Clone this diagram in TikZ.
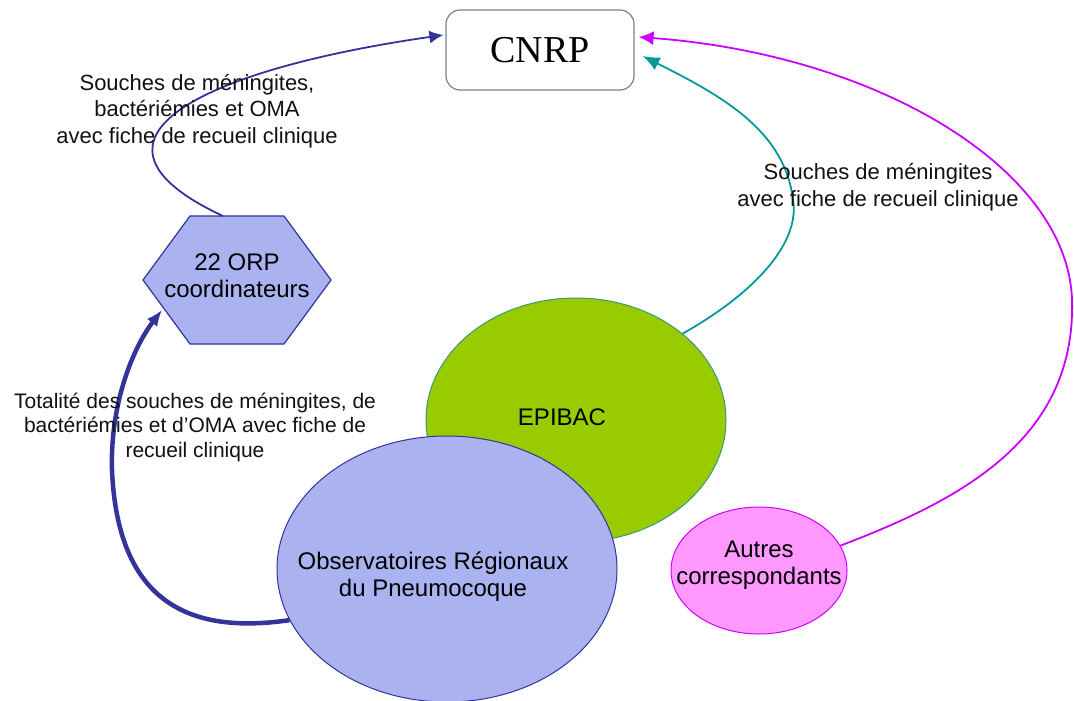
\documentclass[tikz,border=0pt]{standalone}
\usepackage{fontspec}
\setmainfont{Liberation Sans}
\newfontfamily\cnrpfont{Liberation Serif}
\usetikzlibrary{shapes.geometric,arrows.meta,calc}
\definecolor{periw}{RGB}{170,178,240}
\definecolor{navy}{RGB}{51,51,153}
\definecolor{leaf}{RGB}{153,204,0}
\definecolor{leafedge}{RGB}{60,150,120}
\definecolor{tealc}{RGB}{0,153,153}
\definecolor{magc}{RGB}{204,0,255}
\definecolor{pinkc}{RGB}{255,153,255}
\definecolor{boxgray}{RGB}{128,128,128}
\definecolor{txt}{RGB}{17,17,17}
\begin{document}
\begin{tikzpicture}[x=1pt,y=-1pt,
  blob/.style={ellipse, inner sep=0pt, line width=1pt},
  lbl/.style={align=center, text=txt, font=\fontsize{22}{26.5}\selectfont, inner sep=0pt},
  nodetxt/.style={align=center, text=black, font=\fontsize{24}{27}\selectfont, inner sep=0pt},
  flow/.style={line width=1.8pt},
]
\useasboundingbox (0,0) rectangle (1074,701);
\fill[white] (0,0) rectangle (1074,701);

\node[draw=boxgray, line width=1.2pt, rounded corners=14pt, minimum width=188pt, minimum height=80pt, fill=white, inner sep=0pt, font=\cnrpfont\fontsize{38}{40}\selectfont] (cnrp) at (540,50) {CNRP};

\node[blob, draw=leafedge, fill=leaf, minimum width=300pt, minimum height=244pt] (epibac) at (576,420) {};
\node[nodetxt] (epibactext) at (562,417) {EPIBAC};
\node[blob, draw=navy, fill=periw, minimum width=340pt, minimum height=266pt] (obs) at (447,569) {};
\node[nodetxt] (obstext) at (433,577) {Observatoires Régionaux\\du Pneumocoque};
\node[blob, draw=magc, fill=pinkc, minimum width=176pt, minimum height=127pt] (autres) at (759,570.5) {};
\node[nodetxt] (autrestext) at (759,565) {Autres\\correspondants};

\coordinate (orp) at (237,280);
\draw[navy, fill=periw, line width=1.2pt, line join=miter] ($(orp)+(-94,0)$) -- ($(orp)+(-47,-64)$) -- ($(orp)+(47,-64)$) -- ($(orp)+(94,0)$) -- ($(orp)+(47,64)$) -- ($(orp)+(-47,64)$) -- cycle;
\node[nodetxt] (orptext) at (237,276) {22 ORP\\coordinateurs};

\draw[flow, navy, -{Latex[length=14pt,width=13pt]}] ($(orp)+(-14,-64)$) .. controls (60,140) and (200,70) .. ($(cnrp.west)+(-2,-15)$);
\draw[line width=4.5pt, navy, -{Latex[length=16pt,width=13pt]}] (obs.198) .. controls (200,633) and (118,612) .. (112,470) .. controls (110,400) and (135,345) .. ($(orp)+(-75,30)$);
\draw[flow, tealc, -{Latex[length=17pt,width=14pt]}] (epibac.39) .. controls (760,290) and (800,240) .. (793,200) .. controls (785,130) and (720,95) .. ($(cnrp.east)+(8,6)$);
\draw[flow, magc, -{Latex[length=15pt,width=14pt]}] (autres.17) .. controls (960,500) and (1076,440) .. (1072,300) .. controls (1068,170) and (880,55) .. ($(cnrp.east)+(4,-13)$);

\node[lbl] (lab1) at (197,111) {Souches de méningites,\\bactériémies et OMA\\avec fiche de recueil clinique};
\node[lbl] (lab2) at (878,187) {Souches de méningites\\avec fiche de recueil clinique};
\node[lbl, font=\fontsize{21}{24.5}\selectfont] (lab3) at (195,427) {Totalité des souches de méningites, de\\bactériémies et d’OMA avec fiche de\\recueil clinique};
\end{tikzpicture}
\end{document}
